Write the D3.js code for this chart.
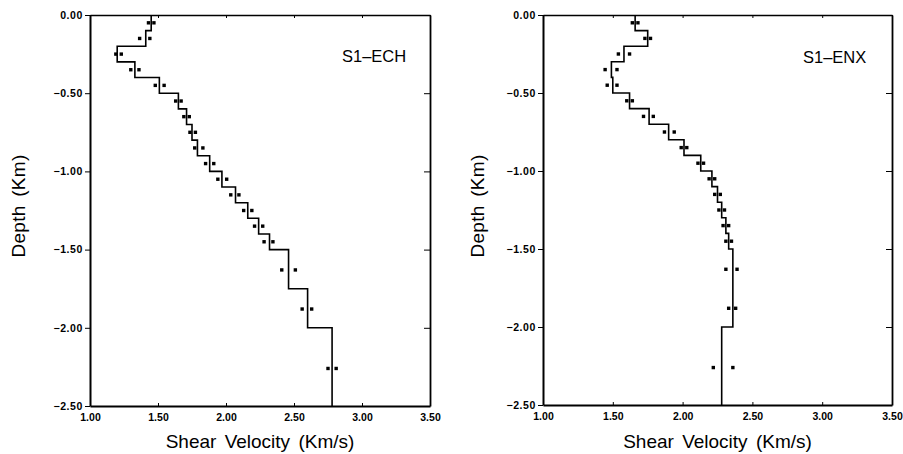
<!DOCTYPE html>
<html>
<head>
<meta charset="utf-8">
<script src="https://cdn.jsdelivr.net/npm/d3@7"></script>
<style>
  body { margin: 0; background: #fff; }
  svg { display: block; }
  .tick text { font-family: "Liberation Sans", Arial, sans-serif; font-weight: bold; font-size: 10.5px; }
  .ylab .tick text { letter-spacing: 0.6px; }
  .title { font-family: "Liberation Sans", Arial, sans-serif; font-size: 19px; fill: #000; word-spacing: 3px; }
  .name { font-family: "Liberation Sans", Arial, sans-serif; font-size: 16.5px; fill: #000; }
</style>
</head>
<body>
<svg></svg>
<script>
// tick values
const xTicks = [1.0, 1.5, 2.0, 2.5, 3.0, 3.5];
const yTicks = [0, -0.5, -1.0, -1.5, -2.0, -2.5];

// layer boundaries (depth, km) shared by both models
const layerDepth = [0, -0.1, -0.2, -0.3, -0.4, -0.5, -0.6, -0.7, -0.8, -0.9, -1.0,
    -1.1, -1.2, -1.3, -1.4, -1.5, -1.75, -2.0, -2.5];
// depths where observed min / max were plotted
const obsDepth = [-0.05, -0.15, -0.25, -0.35, -0.45, -0.55, -0.65, -0.75, -0.85, -0.95,
    -1.05, -1.15, -1.25, -1.35, -1.45, -1.63, -1.88, -2.26];

// S1-ECH
const echVs = [1.45, 1.41, 1.20, 1.33, 1.51, 1.65, 1.71, 1.75, 1.79, 1.88, 1.97, 2.07,
    2.16, 2.24, 2.32, 2.46, 2.60, 2.78];
const echMin = [1.43, 1.365, 1.19, 1.30, 1.48, 1.63, 1.69, 1.735, 1.77, 1.85, 1.94, 2.035,
    2.13, 2.21, 2.28, 2.41, 2.56, 2.75];
const echMax = [1.47, 1.44, 1.23, 1.36, 1.545, 1.67, 1.73, 1.775, 1.83, 1.91, 2.005, 2.095,
    2.19, 2.27, 2.345, 2.51, 2.63, 2.81];

// S1-ENX
const enxVs = [1.66, 1.75, 1.58, 1.49, 1.50, 1.62, 1.76, 1.90, 2.01, 2.13, 2.21, 2.25,
    2.28, 2.31, 2.33, 2.36, 2.36, 2.28];
const enxMin = [1.64, 1.73, 1.54, 1.445, 1.46, 1.60, 1.72, 1.87, 1.99, 2.11, 2.19, 2.23,
    2.26, 2.29, 2.31, 2.31, 2.33, 2.22];
const enxMax = [1.68, 1.77, 1.62, 1.53, 1.53, 1.64, 1.79, 1.94, 2.03, 2.15, 2.23, 2.27,
    2.30, 2.33, 2.35, 2.39, 2.38, 2.36];

const width = 903;
const height = 454;

let svg = d3.select('svg')
    .attr('width', width)
    .attr('height', height)

let fmt = d3.format('.2f')
let fmtY = d => d === 0 ? '0.00' : fmt(d)

let drawPanel = (p) => {
    let xScale = d3.scaleLinear().domain([1, 3.5]).range([p.x0, p.x1])
    let yScale = d3.scaleLinear().domain([-2.5, 0]).range([p.y1, p.y0])

    // step profile
    let pts = []
    p.vs.forEach((v, i) => {
        pts.push([v, layerDepth[i]])
        pts.push([v, layerDepth[i + 1]])
    })
    let line = d3.line().x(d => xScale(d[0])).y(d => yScale(d[1]))
    svg.append('path')
        .datum(pts)
        .attr('d', line)
        .attr('fill', 'none')
        .attr('stroke', '#000')
        .attr('stroke-width', 1.6)

    // observed min / max dots
    let dots = []
    obsDepth.forEach((d, i) => {
        dots.push([p.lo[i], d])
        dots.push([p.hi[i], d])
    })
    svg.append('g').selectAll('rect')
        .data(dots)
        .enter()
        .append('rect')
        .attr('x', d => xScale(d[0]) - 1.7)
        .attr('y', d => yScale(d[1]) - 1.7)
        .attr('width', 3.4)
        .attr('height', 3.4)
        .attr('fill', '#000')

    // axes
    let left = svg.append('g')
        .attr('class', 'ylab')
        .attr('transform', 'translate(' + p.x0 + ',0)')
        .call(d3.axisLeft(yScale).tickValues(yTicks).tickFormat(fmtY).tickSize(5).tickSizeOuter(0).tickPadding(2))
    left.select('.domain').attr('stroke-width', 2)

    let bottom = svg.append('g')
        .attr('transform', 'translate(0,' + p.y1 + ')')
        .call(d3.axisBottom(xScale).tickValues(xTicks).tickFormat(fmt).tickSize(3).tickSizeOuter(0).tickPadding(5))
    bottom.selectAll('.tick line').attr('y2', -3)
    bottom.select('.domain').attr('stroke-width', 1.8)

    let top = svg.append('g')
        .attr('transform', 'translate(0,' + p.y0 + ')')
        .call(d3.axisBottom(xScale).tickValues(xTicks).tickFormat('').tickSize(3).tickSizeOuter(0))
    top.select('.domain').attr('stroke-width', 1.4)

    let right = svg.append('g')
        .attr('transform', 'translate(' + p.x1 + ',0)')
        .call(d3.axisLeft(yScale).tickValues(yTicks).tickFormat('').tickSize(6).tickSizeOuter(0))
    right.select('.domain').attr('stroke-width', 1.8)

    // titles
    svg.append('text')
        .attr('class', 'title')
        .attr('x', (p.x0 + p.x1) / 2)
        .attr('y', 448)
        .attr('text-anchor', 'middle')
        .text('Shear Velocity (Km/s)')

    svg.append('text')
        .attr('class', 'title')
        .attr('transform', 'translate(' + p.ylabX + ',206) rotate(-90)')
        .attr('text-anchor', 'middle')
        .attr('letter-spacing', 0.3)
        .text('Depth (Km)')

    svg.append('text')
        .attr('class', 'name')
        .attr('x', p.nameX)
        .attr('y', p.nameY)
        .text(p.name)
}

drawPanel({ x0: 90, x1: 430, y0: 15, y1: 406, vs: echVs, lo: echMin, hi: echMax,
    name: 'S1\u2013ECH', nameX: 342, nameY: 62, ylabX: 25 })
drawPanel({ x0: 543, x1: 892, y0: 15, y1: 405, vs: enxVs, lo: enxMin, hi: enxMax,
    name: 'S1\u2013ENX', nameX: 803, nameY: 63, ylabX: 484 })
</script>
</body>
</html>
